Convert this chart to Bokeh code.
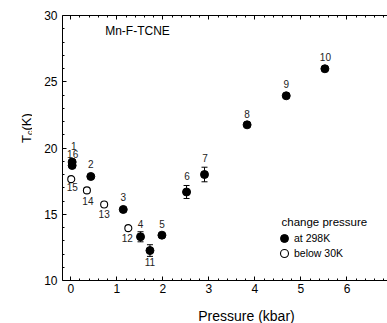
import math
from bokeh.plotting import figure
from bokeh.layouts import row, column
from bokeh.models import (ColumnDataSource, Range1d, LinearAxis, Whisker, TeeHead,
                          Label, Legend, LegendItem, FixedTicker)
from bokeh.core.properties import value
from bokeh.embed import file_html
from bokeh.resources import INLINE

# ---------------- data ----------------
filled_id = ["1", "16", "2", "3", "4", "5", "6", "7", "8", "9", "10", "11"]
filled_p = [0.03, 0.03, 0.435, 1.14, 1.515, 1.98, 2.515, 2.905, 3.83, 4.68, 5.52, 1.72]
filled_tc = [18.94, 18.68, 17.85, 15.36, 13.30, 13.42, 16.68, 18.00, 21.75, 23.94, 25.98, 12.26]

open_id = ["12", "13", "14", "15"]
open_p = [1.25, 0.725, 0.35, 0.01]
open_tc = [13.95, 15.74, 16.80, 17.65]

err_p = [1.515, 2.515, 2.905, 1.72]
err_tc = [13.30, 16.68, 18.00, 12.26]
err_size = [0.38, 0.49, 0.55, 0.44]

x_ticks = [0, 1, 2, 3, 4, 5, 6]
y_ticks = [10, 15, 20, 25, 30]

title_text = "Mn-F-TCNE"
legend_title = "change pressure"
legend_labels = ["at 298K", "below 30K"]
x_label = "Pressure (kbar)"
y_label_parts = ["T", "c", "(K)"]

# label offsets (screen px) -- styling only
label_off = {
    "1": (1.5, -16.5), "16": (0.5, -11), "2": (0, -12), "3": (0, -12),
    "4": (0, -13), "5": (0, -11.5), "6": (0.5, -15.5), "7": (0.5, -16.5),
    "8": (0, -11), "9": (0, -12), "10": (0.5, -11.5), "11": (0, 11),
    "12": (-1, 10), "13": (0, 10), "14": (1, 10.3), "15": (1, 8),
}

FONT = "Liberation Sans"
LEFT_W = 32
BOTTOM_H = 23

# ---------------- main plot ----------------
p = figure(width=387 - LEFT_W, height=323 - BOTTOM_H, output_backend="svg",
           toolbar_location=None, title_location=None,
           x_range=Range1d(-0.18, 6.88), y_range=Range1d(10, 30),
           min_border_left=62 - LEFT_W, min_border_right=0, min_border_top=15,
           min_border_bottom=20)
p.outline_line_color = None
p.grid.visible = False

x_minor = [t + k * 0.2 for t in x_ticks for k in range(1, 5)]
y_minor = [t + k for t in y_ticks[:-1] for k in range(1, 5)]
xt = FixedTicker(ticks=x_ticks, minor_ticks=x_minor)
yt = FixedTicker(ticks=y_ticks, minor_ticks=y_minor)

def style_axis(ax):
    ax.axis_line_color = "black"
    ax.axis_line_width = 1
    ax.major_tick_in = 4
    ax.major_tick_out = 0
    ax.minor_tick_in = 2
    ax.minor_tick_out = 0
    ax.major_tick_line_color = "black"
    ax.minor_tick_line_color = "black"
    ax.major_label_text_font = FONT
    ax.major_label_text_font_size = "12px"
    ax.major_label_text_color = "black"

p.xaxis.ticker = xt
p.yaxis.ticker = yt
style_axis(p.xaxis[0])
style_axis(p.yaxis[0])
p.xaxis.major_label_standoff = 3
p.yaxis.major_label_standoff = 5

top = LinearAxis(ticker=xt)
style_axis(top)
top.major_label_overrides = {t: "" for t in x_ticks}
top.major_label_standoff = 0
p.add_layout(top, "above")

# error bars
esrc = ColumnDataSource(dict(x=err_p,
                             lo=[t - e for t, e in zip(err_tc, err_size)],
                             hi=[t + e for t, e in zip(err_tc, err_size)]))
wh = Whisker(source=esrc, base="x", upper="hi", lower="lo", dimension="height",
             line_color="black", line_width=1,
             upper_head=TeeHead(size=6, line_color="black", line_width=1),
             lower_head=TeeHead(size=6, line_color="black", line_width=1))
p.add_layout(wh)

fsrc = ColumnDataSource(dict(x=filled_p, y=filled_tc, lab=filled_id,
                             dx=[label_off[i][0] for i in filled_id],
                             dy=[label_off[i][1] for i in filled_id]))
osrc = ColumnDataSource(dict(x=open_p, y=open_tc, lab=open_id,
                             dx=[label_off[i][0] for i in open_id],
                             dy=[label_off[i][1] for i in open_id]))

r_f = p.scatter("x", "y", source=fsrc, size=8, marker="circle",
                fill_color="black", line_color="black")
r_o = p.scatter("x", "y", source=osrc, size=7, marker="circle",
                fill_color="white", line_color="black", line_width=1.1)

for src in (fsrc, osrc):
    p.text("x", "y", text="lab", source=src, x_offset="dx", y_offset="dy",
           text_font=value(FONT), text_font_size="10px", text_color="#222222",
           text_align="center", text_baseline="middle")

# legend: one Legend per entry, so each row sits where the reference has it
def make_legend(label, rend, loc):
    return Legend(items=[LegendItem(label=label, renderers=[rend])],
                  location=loc, orientation="vertical",
                  glyph_width=20, glyph_height=20, label_height=20,
                  label_standoff=0, padding=0, margin=0,
                  border_line_color=None, background_fill_alpha=0,
                  label_text_font=FONT, label_text_font_size="10.5px",
                  label_text_color="black")

p.add_layout(make_legend(legend_labels[0], r_f, (212, 32)), "center")
p.add_layout(make_legend(legend_labels[1], r_o, (212, 17)), "center")

p.add_layout(Label(x=219, y=280 - 221, x_units="screen", y_units="screen",
                   text=legend_title, text_font=FONT, text_font_size="11.5px",
                   text_baseline="middle", text_align="left", text_color="black"))

# title inside frame
p.add_layout(Label(x=75, y=280 - 30.7, x_units="screen", y_units="screen",
                   text=title_text, text_font=FONT, text_font_size="12px",
                   text_baseline="middle", text_align="center", text_color="black"))

# ---------------- axis-title strips ----------------
def strip(w, h):
    f = figure(width=w, height=h, output_backend="svg", toolbar_location=None,
               title_location=None,
               x_range=Range1d(0, w), y_range=Range1d(0, h),
               x_axis_type=None, y_axis_type=None,
               min_border=0, min_border_left=0, min_border_right=0,
               min_border_top=0, min_border_bottom=0)
    f.outline_line_color = None
    f.grid.visible = False
    return f

H = 323 - BOTTOM_H
ly = strip(LEFT_W, H)
ang = math.pi / 2
# rotated texts anchored at their far (upper) end, reading bottom-to-top
ly.add_layout(Label(x=26, y=H - 154.6, x_units="screen", y_units="screen",
                    text=y_label_parts[0], angle=ang, text_font=FONT,
                    text_font_size="13px", text_baseline="alphabetic",
                    text_align="right", text_color="black"))
ly.add_layout(Label(x=29.5, y=H - 150.0, x_units="screen", y_units="screen",
                    text=y_label_parts[1], angle=ang, text_font=FONT,
                    text_font_size="9px", text_baseline="alphabetic",
                    text_align="right", text_color="black"))
ly.add_layout(Label(x=26, y=H - 132.7, x_units="screen", y_units="screen",
                    text=y_label_parts[2], angle=ang, text_font=FONT,
                    text_font_size="13px", text_baseline="alphabetic",
                    text_align="right", text_color="black"))

lx = strip(387, BOTTOM_H)
lx.add_layout(Label(x=246, y=323 - 315.5, x_units="screen", y_units="screen",
                    text=x_label, text_font=FONT, text_font_size="14px",
                    text_baseline="middle", text_align="center",
                    text_color="black"))

layout = column(row(ly, p, spacing=0), lx, spacing=0)

open("out.html", "w").write(file_html(layout, INLINE))
